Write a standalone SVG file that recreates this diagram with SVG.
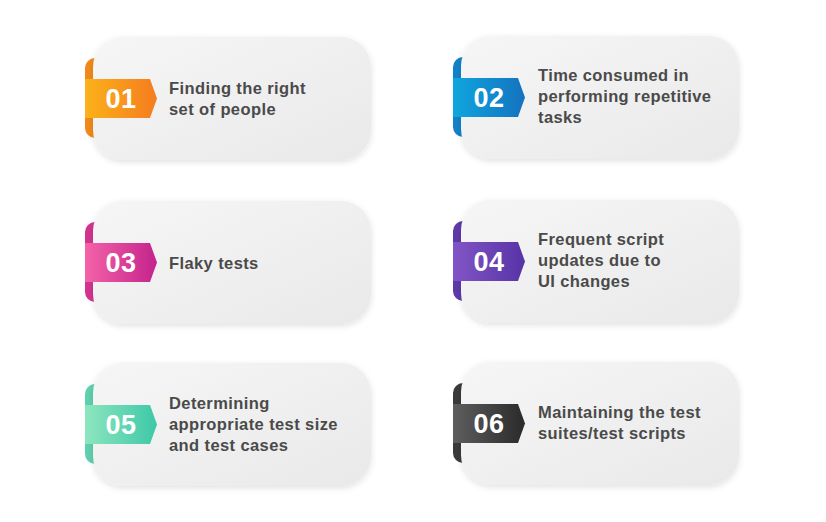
<svg xmlns="http://www.w3.org/2000/svg" width="826" height="522" viewBox="0 0 826 522">
<defs>
<linearGradient id="card" x1="0" y1="0" x2="1" y2="1"><stop offset="0" stop-color="#f6f6f6"/><stop offset="1" stop-color="#e9e9e9"/></linearGradient>
<linearGradient id="g1" x1="0" x2="1"><stop offset="0" stop-color="#fbb21a"/><stop offset="1" stop-color="#f57c1f"/></linearGradient>
<linearGradient id="g2" x1="0" x2="1"><stop offset="0" stop-color="#10a6de"/><stop offset="1" stop-color="#1472bf"/></linearGradient>
<linearGradient id="g3" x1="0" x2="1"><stop offset="0" stop-color="#f463a8"/><stop offset="1" stop-color="#c4238c"/></linearGradient>
<linearGradient id="g4" x1="0" x2="1"><stop offset="0" stop-color="#8255c6"/><stop offset="1" stop-color="#5634a6"/></linearGradient>
<linearGradient id="g5" x1="0" x2="1"><stop offset="0" stop-color="#8ce6bf"/><stop offset="1" stop-color="#3ec8a7"/></linearGradient>
<linearGradient id="g6" x1="0" x2="1"><stop offset="0" stop-color="#5e5e5e"/><stop offset="1" stop-color="#2a2a2a"/></linearGradient>
<filter id="sh" x="-10%" y="-10%" width="120%" height="130%"><feDropShadow dx="0" dy="2" stdDeviation="3" flood-color="#000" flood-opacity="0.12"/></filter>
</defs>
<style>
.num{font-family:"Liberation Sans",Arial,sans-serif;font-weight:bold;font-size:27px;fill:#fff;text-anchor:middle;letter-spacing:0.5px}
.t{font-family:"Liberation Sans",Arial,sans-serif;font-weight:bold;font-size:16.5px;fill:#4a4a4a;letter-spacing:0.4px}
</style>
<rect width="826" height="522" fill="#fff"/>
<g id="node1">
<path d="M85 68 a10 10 0 0 1 10 -10 V138 a10 10 0 0 1 -10 -10Z" fill="#f08a1a"/>
<rect x="93" y="37" width="278" height="123" rx="30" fill="url(#card)" filter="url(#sh)"/>
<path d="M85 79 H150 L157 98.5 L150 118 H85Z" fill="url(#g1)"/>
<text class="num" x="121" y="108">01</text>
<text class="t" x="169" y="94">Finding the right</text><text class="t" x="169" y="115">set of people</text>
</g>
<g id="node2">
<path d="M453 67 a10 10 0 0 1 10 -10 V137 a10 10 0 0 1 -10 -10Z" fill="#1282c8"/>
<rect x="461" y="36" width="278" height="123" rx="30" fill="url(#card)" filter="url(#sh)"/>
<path d="M453 78 H518 L525 97.5 L518 117 H453Z" fill="url(#g2)"/>
<text class="num" x="489" y="107">02</text>
<text class="t" x="538" y="81">Time consumed in</text><text class="t" x="538" y="102">performing repetitive</text><text class="t" x="538" y="123">tasks</text>
</g>
<g id="node3">
<path d="M85 232 a10 10 0 0 1 10 -10 V302 a10 10 0 0 1 -10 -10Z" fill="#d4338f"/>
<rect x="93" y="201" width="278" height="123" rx="30" fill="url(#card)" filter="url(#sh)"/>
<path d="M85 243 H150 L157 262.5 L150 282 H85Z" fill="url(#g3)"/>
<text class="num" x="121" y="272">03</text>
<text class="t" x="169" y="269">Flaky tests</text>
</g>
<g id="node4">
<path d="M453 231 a10 10 0 0 1 10 -10 V301 a10 10 0 0 1 -10 -10Z" fill="#5e3aa8"/>
<rect x="461" y="200" width="278" height="123" rx="30" fill="url(#card)" filter="url(#sh)"/>
<path d="M453 242 H518 L525 261.5 L518 281 H453Z" fill="url(#g4)"/>
<text class="num" x="489" y="271">04</text>
<text class="t" x="538" y="245">Frequent script</text><text class="t" x="538" y="266">updates due to</text><text class="t" x="538" y="287">UI changes</text>
</g>
<g id="node5">
<path d="M85 394 a10 10 0 0 1 10 -10 V464 a10 10 0 0 1 -10 -10Z" fill="#5fd0ae"/>
<rect x="93" y="363" width="278" height="123" rx="30" fill="url(#card)" filter="url(#sh)"/>
<path d="M85 405 H150 L157 424.5 L150 444 H85Z" fill="url(#g5)"/>
<text class="num" x="121" y="434">05</text>
<text class="t" x="169" y="409">Determining</text><text class="t" x="169" y="430">appropriate test size</text><text class="t" x="169" y="451">and test cases</text>
</g>
<g id="node6">
<path d="M453 393 a10 10 0 0 1 10 -10 V463 a10 10 0 0 1 -10 -10Z" fill="#3a3a3a"/>
<rect x="461" y="362" width="278" height="123" rx="30" fill="url(#card)" filter="url(#sh)"/>
<path d="M453 404 H518 L525 423.5 L518 443 H453Z" fill="url(#g6)"/>
<text class="num" x="489" y="433">06</text>
<text class="t" x="538" y="418">Maintaining the test</text><text class="t" x="538" y="439">suites/test scripts</text>
</g>
<g id="connectors"/>
</svg>
